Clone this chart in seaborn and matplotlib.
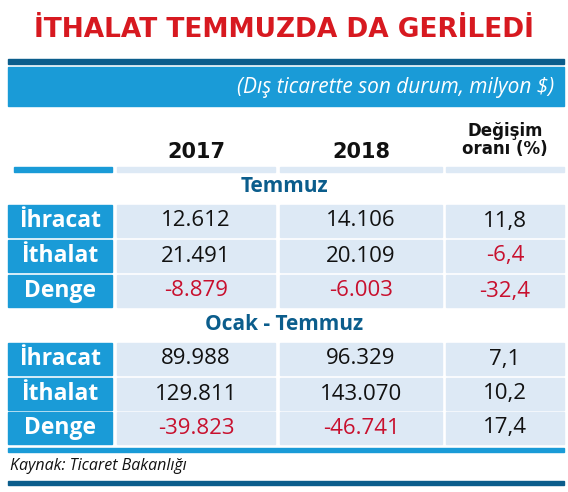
import matplotlib
matplotlib.use("Agg")
import matplotlib.pyplot as plt
import seaborn as sns
from matplotlib.patches import Rectangle

sns.set_theme(style="white")
plt.rcParams['font.family'] = ['Open Sans', 'DejaVu Sans']

title = "İTHALAT TEMMUZDA DA GERİLEDİ"
subtitle = "(Dış ticarette son durum, milyon $)"
columns = ["2017", "2018", "Değişim\noranı (%)"]
row_labels = ["İhracat", "İthalat", "Denge"]
sections = ["Temmuz", "Ocak - Temmuz"]
temmuz_vals = [["12.612", "14.106", "11,8"],
               ["21.491", "20.109", "-6,4"],
               ["-8.879", "-6.003", "-32,4"]]
ocak_vals = [["89.988", "96.329", "7,1"],
             ["129.811", "143.070", "10,2"],
             ["-39.823", "-46.741", "17,4"]]
source = "Kaynak: Ticaret Bakanlığı"

BLUE = "#1a9bd7"
DARK = "#0b5d8c"
CELL = "#dde9f5"
RED = "#c8102e"

fig = plt.figure(figsize=(5.68, 4.92), dpi=100)
ax = fig.add_axes([0, 0, 1, 1])
ax.set_xlim(0, 568)
ax.set_ylim(492, 0)
ax.axis("off")

ax.text(284, 30, title, ha="center", va="center", fontsize=19, fontweight="bold",
        color="#d71920", family="DejaVu Sans")
ax.add_patch(Rectangle((8, 59), 556, 5, color=DARK))
ax.add_patch(Rectangle((8, 67), 556, 39, color=BLUE))
ax.text(554, 87, subtitle, ha="right", va="center", fontsize=15, style="italic", color="white")

col_x = [(117, 275), (280, 442), (446, 564)]
for (x0, x1), c in zip(col_x, columns):
    multi = "\n" in c
    ax.text((x0 + x1) / 2, 140 if multi else 152, c, ha="center", va="center",
            fontsize=12 if multi else 15, fontweight="bold", color="#111",
            family="DejaVu Sans", linespacing=1.0)
    ax.add_patch(Rectangle((x0, 167), x1 - x0, 5, color=CELL))
ax.add_patch(Rectangle((14, 167), 98, 5, color=BLUE))

def draw_section(y_title, y_rows, name, vals):
    ax.text(284, y_title, name, ha="center", va="center", fontsize=15,
            fontweight="bold", color=DARK)
    for y0, lab, row in zip(y_rows, row_labels, vals):
        h = 32
        ax.add_patch(Rectangle((8, y0), 104, h, color=BLUE))
        ax.text(60, y0 + h / 2, lab, ha="center", va="center", fontsize=16.5,
                fontweight="bold", color="white")
        for (x0, x1), v in zip(col_x, row):
            ax.add_patch(Rectangle((x0, y0), x1 - x0, h, color=CELL))
            ax.text((x0 + x1) / 2, y0 + h / 2, v, ha="center", va="center",
                    fontsize=16, color=RED if v.startswith("-") else "#111")

draw_section(187, [205, 240, 275], sections[0], temmuz_vals)
draw_section(325, [343, 378, 412], sections[1], ocak_vals)

ax.add_patch(Rectangle((8, 448), 556, 4, color=BLUE))
ax.text(10, 466, source, ha="left", va="center", fontsize=11.5, style="italic", color="#111")
ax.add_patch(Rectangle((8, 481), 556, 4, color=DARK))

fig.savefig("out.png", dpi=100)
